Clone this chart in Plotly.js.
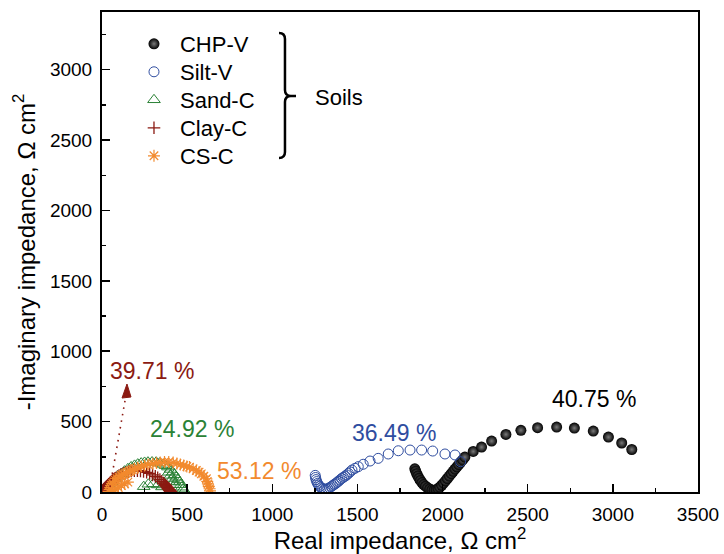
<!DOCTYPE html>
<html><head><meta charset="utf-8">
<script src="https://cdn.plot.ly/plotly-3.0.1.min.js"></script>
<style>html,body{margin:0;padding:0;background:#fff}</style>
</head><body><div id="chart" style="width:724px;height:554px"></div>
<script>
const seriesNames = ['CHP-V', 'Silt-V', 'Sand-C', 'Clay-C', 'CS-C'];

const chpX = [1837,1842,1848,1855,1862,1870,1879,1889,1900,1912,1925,1938,1951,1963,1974,1984,
  1995,2006,2017,2028,2040,2051,2062,2073,2084,2095,2106,2118,
  2131,2180,2229,2288,2372,2460,2558,2670,2774,2885,2974,3052,3111];
const chpY = [165,148,130,113,97,82,67,53,41,30,21,15,13,16,24,34,
  48,63,79,96,113,130,147,163,179,195,211,228,
  248,288,319,362,409,438,457,461,454,433,390,348,302];

const siltX = [1252,1254,1257,1261,1266,1272,1279,1287,1296,1306,1316,1326,1336,1346,1355,1364,1372,1380,1388,1397,1407,1418,1428,1437,1447,1457,1468,1486,1505,1534,1574,1622,1681,1740,1809,1877,1942,2014,2073,2106];
const siltY = [118,103,88,74,61,49,39,30,24,20,20,24,30,38,46,54,60,68,76,85,96,105,113,121,132,143,156,168,180,197,220,239,270,293,298,298,291,270,263,215];

const sandX = [8,18,30,42,56,74,92,113,132,152,171,191,210,230,250,270,294,318,338,358,373,387,402,416,426,436,446,456,463,469,476,484,
  428,420,412,402,392, 352,328,300,272,245];
const sandY = [5,18,34,52,72,96,113,129,148,165,178,189,198,205,210,212,213,212,205,196,187,177,160,141,123,105,88,70,52,34,20,8,
  52,74,96,118,140, 36,50,58,55,38];

const clayX = [2,4,6,9,11,14,17,20,23,26,29,32,36,39,43,46,50,54,58,62,66,71,75,80,90,100,112,125,140,156,172,190,208,226,244,262,280,297,313,327,340,351,361,365,370,374,378,382,385,388,391,394,396,398,400,402,403,405];
const clayY = [2,4,7,11,14,19,22,27,31,36,40,45,50,54,59,63,68,72,77,81,86,90,95,99,108,117,125,132,139,145,149,152,152,150,146,140,132,122,111,100,88,76,64,58,52,46,41,35,30,25,21,16,13,10,7,5,3,2];

const csX = [40,45,50,56,63,70,78,88,100,113,126,139,152,165,178,191,210,230,250,270,299,320,342,367,392,418,440,460,480,498,514,535,554,570,583,598,613,618,622,627,632,634,
  65,80,96,114,133,152];
const csY = [5,18,32,46,60,72,84,95,106,117,126,134,141,149,157,165,173,181,189,196,201,206,210,213,213,209,203,195,188,181,177,164,153,141,129,112,94,76,58,40,23,8,
  8,20,33,46,58,70];

const labelText = ['40.75 %', '36.49 %', '24.92 %', '53.12 %', '39.71 %'];
const labelX = [2889, 1715, 531, 920, 294];
const labelY = [660, 419, 447, 149, 859];

const FONT = 'Liberation Sans, Arial, Helvetica, sans-serif';
const colors = ['#000000', '#2F4DA0', '#2B8236', '#8B1A12', '#F28A2E'];

// plot-area pixel helpers for decorations (bracket, arrow)
const L = 102, R = 26, T = 12, B = 62, W = 724, H = 554;
const PW = W - L - R, PH = H - T - B;
const px = v => ((v - L) / PW).toFixed(4);
const py = v => ((H - B - v) / PH).toFixed(4);

const traces = [
  {x: chpX, y: chpY, name: seriesNames[0], type: 'scatter', mode: 'markers',
   marker: {symbol: 'circle', size: 11, color: '#000', line: {width: 0},
            gradient: {type: 'radial', color: '#7a7a7a'}}},
  {x: siltX, y: siltY, name: seriesNames[1], type: 'scatter', mode: 'markers',
   marker: {symbol: 'circle-open', size: 10, color: colors[1], line: {width: 1, color: colors[1]}}},
  {x: sandX, y: sandY, name: seriesNames[2], type: 'scatter', mode: 'markers',
   marker: {symbol: 'triangle-up-open', size: 11, color: colors[2], line: {width: 1, color: colors[2]}}},
  {x: clayX, y: clayY, name: seriesNames[3], type: 'scatter', mode: 'markers',
   marker: {symbol: 'cross-thin-open', size: 9, color: colors[3], line: {width: 1.3, color: colors[3]}}},
  {x: csX, y: csY, name: seriesNames[4], type: 'scatter', mode: 'markers',
   marker: {symbol: 'asterisk-open', size: 10, color: colors[4], line: {width: 1.2, color: colors[4]}}}
];

const labelColors = ['#000000', '#2F4DA0', '#2B8236', '#F28A2E', '#8B1A12'];
const annotations = labelText.map((t, i) => ({
  x: labelX[i], y: labelY[i], xref: 'x', yref: 'y', text: t, showarrow: false,
  font: {family: FONT, size: 23, color: labelColors[i]}
}));
annotations.push({x: px(313), y: py(97), xref: 'paper', yref: 'paper', text: 'Soils',
  xanchor: 'left', yanchor: 'middle', showarrow: false, font: {family: FONT, size: 22, color: '#000'}});

const bracket = 'M' + px(279) + ',' + py(33) + ' Q' + px(285) + ',' + py(33) + ' ' + px(285) + ',' + py(39) +
  ' L' + px(285) + ',' + py(90) + ' Q' + px(285) + ',' + py(96) + ' ' + px(291) + ',' + py(96) +
  ' L' + px(296) + ',' + py(96) + ' M' + px(291) + ',' + py(96) + ' Q' + px(285) + ',' + py(96) + ' ' + px(285) + ',' + py(102) +
  ' L' + px(285) + ',' + py(152) + ' Q' + px(285) + ',' + py(158) + ' ' + px(279) + ',' + py(158);

const arrowHead = 'M' + px(127) + ',' + py(384) + ' L' + px(122) + ',' + py(398) +
  ' L' + px(131) + ',' + py(397) + ' Z';

const shapes = [
  {type: 'path', xref: 'paper', yref: 'paper', path: bracket, line: {color: '#000', width: 2.5}},
  {type: 'line', xref: 'paper', yref: 'paper', x0: px(110), y0: py(487), x1: px(125.5), y1: py(398),
   line: {color: colors[3], width: 1.6, dash: '1.6px,5px'}},
  {type: 'path', xref: 'paper', yref: 'paper', path: arrowHead, fillcolor: colors[3],
   line: {color: colors[3], width: 1}}
];

const axisCommon = {
  showline: true, mirror: true, linecolor: '#000', linewidth: 2,
  ticks: 'inside', ticklen: 8, tickwidth: 1.5, tickcolor: '#000',
  showgrid: false, zeroline: false,
  tickfont: {family: FONT, size: 19, color: '#000'},
  minor: {ticks: 'inside', ticklen: 4, tickwidth: 1.5, tickcolor: '#000', dtick: 250, showgrid: false}
};

const layout = {
  width: W, height: H,
  margin: {l: L, r: R, t: T, b: B},
  paper_bgcolor: '#fff', plot_bgcolor: '#fff',
  font: {family: FONT, color: '#000'},
  xaxis: Object.assign({}, axisCommon, {range: [0, 3500], dtick: 500, tick0: 0,
    ticklabelstandoff: 4,
    title: {text: 'Real impedance, \u03A9 cm<sup>2</sup>', font: {family: FONT, size: 24, color: '#000'}, standoff: 7}}),
  yaxis: Object.assign({}, axisCommon, {range: [0, 3410], dtick: 500, tick0: 0,
    ticklabelstandoff: 4,
    title: {text: '-Imaginary impedance, \u03A9 cm<sup>2</sup>', font: {family: FONT, size: 24, color: '#000'}, standoff: 8}}),
  showlegend: true,
  legend: {x: px(128), y: py(28), xanchor: 'left', yanchor: 'top',
    font: {family: FONT, size: 22, color: '#000'}, bgcolor: 'rgba(0,0,0,0)',
    borderwidth: 0, itemwidth: 42, tracegroupgap: 0},
  annotations: annotations,
  shapes: shapes
};

Plotly.newPlot('chart', traces, layout, {displayModeBar: false, staticPlot: true}).then(function () {
  // tighten legend row spacing to match the reference (about 28 px per row)
  const items = document.querySelectorAll('#chart .legend .traces');
  let y0 = null, x0 = 0;
  items.forEach(function (el, i) {
    const m = /translate\(\s*([-\d.]+)[ ,]+([-\d.]+)\s*\)/.exec(el.getAttribute('transform') || '');
    if (!m) return;
    if (y0 === null) { y0 = parseFloat(m[2]) - 5; x0 = parseFloat(m[1]); }
    el.setAttribute('transform', 'translate(' + x0 + ',' + (y0 + 28 * i) + ')');
  });
});
</script>
</body></html>
